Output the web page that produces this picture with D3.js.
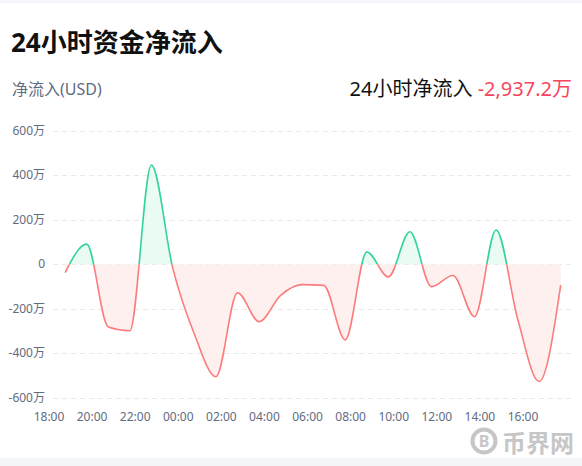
<!DOCTYPE html>
<html>
<head>
<meta charset="utf-8">
<script src="https://cdn.jsdelivr.net/npm/d3@7"></script>
<style>
  html, body { margin: 0; padding: 0; background: #fff; }
  svg { display: block; font-family: "Noto Sans", "Noto Sans CJK SC", sans-serif; }
</style>
</head>
<body>
<div id="chart"></div>
<script>
var w = 582;
var h = 466;

// hourly readings, 18:45 to 17:45 next day
var times = ["18:45", "19:45", "20:45", "21:45", "22:45", "23:45",
             "00:45", "01:45", "02:45", "03:45", "04:45", "05:45",
             "06:45", "07:45", "08:45", "09:45", "10:45", "11:45",
             "12:45", "13:45", "14:45", "15:45", "16:45", "17:45"];
// net inflow in 万 USD
var values = [-38, 90, -282, -299, 446, -20,
              -315, -506, -128, -258, -140, -92,
              -95, -340, 55, -57, 146, -101,
              -51, -236, 154, -245, -527, -94];
var xTicks = ["18:00", "20:00", "22:00", "00:00", "02:00", "04:00",
              "06:00", "08:00", "10:00", "12:00", "14:00", "16:00"];
var yTicks = [600, 400, 200, 0, -200, -400, -600];

var title = "24小时资金净流入";
var unitLabel = "净流入(USD)";
var totalLabel = "24小时净流入";
var totalValue = "-2,937.2万";

function toDate(s) {
    var p = s.split(":");
    var hr = +p[0];
    // times before 18:00 belong to the next day
    return new Date(2024, 0, hr >= 18 ? 1 : 2, hr, +p[1]);
}

var data = times.map(function (t, i) { return { t: toDate(t), v: values[i] }; });

var svg = d3.select("#chart")
            .append("svg")
            .attr("width", w)
            .attr("height", h);

// page strips
svg.append("rect").attr("x", 0).attr("y", 0).attr("width", w).attr("height", 3).style("fill", "#f3f5f8");
svg.append("rect").attr("x", 0).attr("y", 458).attr("width", w).attr("height", 8).style("fill", "#f3f5f8");

svg.append("text")
   .attr("x", 11).attr("y", 52)
   .style("font-size", "26px").style("font-weight", "bold").style("fill", "#111")
   .text(title);

svg.append("text")
   .attr("x", 12).attr("y", 95)
   .style("font-size", "16px").style("fill", "#626b80")
   .text(unitLabel);

var total = svg.append("text")
   .attr("x", 572).attr("y", 96)
   .attr("text-anchor", "end")
   .style("font-size", "20px");
total.append("tspan").style("fill", "#111").text(totalLabel + " ");
total.append("tspan").style("fill", "#f6465d").text(totalValue);

var x = d3.scaleTime()
          .domain([toDate(xTicks[0]), toDate(xTicks[xTicks.length - 1])])
          .range([49, 523]);

var y = d3.scaleLinear()
          .domain([-600, 600])
          .range([397.7, 130.7]);

var gridLeft = 53, gridRight = 572;

svg.append("g")
   .selectAll("line")
   .data(yTicks)
   .enter()
   .append("line")
   .attr("x1", gridLeft).attr("x2", gridRight)
   .attr("y1", function (d) { return Math.round(y(d)) + 0.5; })
   .attr("y2", function (d) { return Math.round(y(d)) + 0.5; })
   .style("stroke", "#e9e9ec")
   .style("stroke-dasharray", "5,4");

svg.append("g")
   .selectAll("text")
   .data(yTicks)
   .enter()
   .append("text")
   .attr("x", 45)
   .attr("y", function (d) { return y(d) + 4; })
   .attr("text-anchor", "end")
   .style("font-size", "12px")
   .style("fill", "#626b80")
   .text(function (d) { return d === 0 ? "0" : d + "万"; });

svg.append("g")
   .selectAll("text")
   .data(xTicks)
   .enter()
   .append("text")
   .attr("x", function (d) { return x(toDate(d)); })
   .attr("y", 421)
   .attr("text-anchor", "middle")
   .style("font-size", "12px")
   .style("fill", "#626b80")
   .text(function (d) { return d; });

// clip regions above / below zero
var zero = y(0);
var defs = svg.append("defs");
defs.append("clipPath").attr("id", "above")
    .append("rect").attr("x", 0).attr("y", 0).attr("width", w).attr("height", zero);
defs.append("clipPath").attr("id", "below")
    .append("rect").attr("x", 0).attr("y", zero).attr("width", w).attr("height", h - zero);

var area = d3.area()
             .x(function (d) { return x(d.t); })
             .y0(zero)
             .y1(function (d) { return y(d.v); })
             .curve(d3.curveMonotoneX);

var line = d3.line()
             .x(function (d) { return x(d.t); })
             .y(function (d) { return y(d.v); })
             .curve(d3.curveMonotoneX);

var sides = [
    { clip: "below", fill: "#fff0f0", stroke: "#fb7c7c" },
    { clip: "above", fill: "#e9fbf3", stroke: "#33d497" }
];

sides.forEach(function (s) {
    var g = svg.append("g").attr("clip-path", "url(#" + s.clip + ")");
    g.append("path").datum(data).attr("d", area).style("fill", s.fill);
    g.append("path").datum(data).attr("d", line)
     .style("fill", "none").style("stroke", s.stroke).style("stroke-width", 1.6);
});

// watermark
var wm = svg.append("g");
wm.append("circle").attr("cx", 484).attr("cy", 441).attr("r", 11.5)
  .style("fill", "none").style("stroke", "#c6c6c6").style("stroke-width", 4);
wm.append("text").attr("x", 484).attr("y", 447).attr("text-anchor", "middle")
  .style("font-size", "16px").style("font-weight", "bold").style("fill", "#c6c6c6").text("B");
wm.append("text").attr("x", 502).attr("y", 452)
  .style("font-size", "24px").style("font-weight", "bold").style("fill", "#c6c6c6").text("币界网");
</script>
</body>
</html>
